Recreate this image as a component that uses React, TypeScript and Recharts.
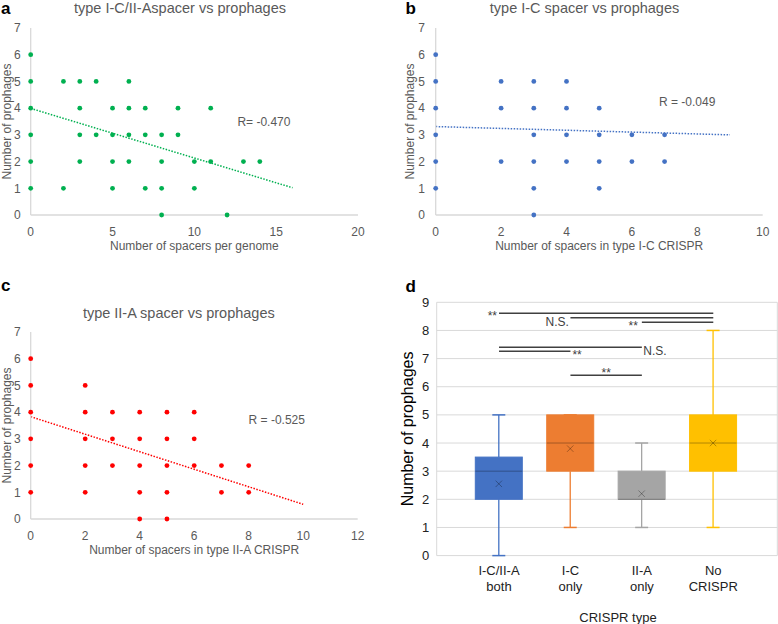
import React from 'react';
import {
  ScatterChart,
  Scatter,
  XAxis,
  YAxis,
  ReferenceLine,
  ReferenceDot,
  ComposedChart,
  Bar,
  CartesianGrid,
} from 'recharts';

const FONT = '"Liberation Sans", Arial, Helvetica, sans-serif';
const GREY_TEXT = '#595959';
const AXIS_GREY = '#d9d9d9';
const DARK = '#222222';

// ---------- Panel a: type I-C/II-A spacers (per genome) vs prophages
const aSpacers = [0, 0, 0, 0, 0, 0, 2, 2, 3, 3, 3, 3, 4, 4, 5, 5, 5, 5, 6, 6, 6, 6, 7, 7, 7, 8, 8, 8, 8, 9, 9, 10, 10, 11, 11, 12, 13, 14];
const aProphages = [1, 2, 3, 4, 5, 6, 1, 5, 2, 3, 4, 5, 3, 5, 1, 2, 3, 4, 2, 3, 4, 5, 1, 3, 4, 0, 1, 2, 3, 3, 4, 1, 2, 2, 4, 0, 2, 2];
const aTrendX = [0, 16];
const aTrendY = [3.99, 1.02];
const aXTicks = [0, 5, 10, 15, 20];
const aR = 'R= -0.470';
const aRAt = [14.25, 3.48];

// ---------- Panel b: type I-C spacers vs prophages
const bSpacers = [0, 0, 0, 0, 0, 0, 2, 2, 2, 3, 3, 3, 3, 3, 3, 4, 4, 4, 4, 5, 5, 5, 5, 6, 6, 7, 7];
const bProphages = [1, 2, 3, 4, 5, 6, 2, 4, 5, 0, 1, 2, 3, 4, 5, 2, 3, 4, 5, 1, 2, 3, 4, 2, 3, 2, 3];
const bTrendX = [0, 9];
const bTrendY = [3.31, 3.0];
const bXTicks = [0, 2, 4, 6, 8, 10];
const bR = 'R = -0.049';
const bRAt = [7.69, 4.24];

// ---------- Panel c: type II-A spacers vs prophages
const cSpacers = [0, 0, 0, 0, 0, 0, 2, 2, 2, 2, 2, 3, 3, 3, 4, 4, 4, 4, 4, 5, 5, 5, 5, 5, 6, 6, 6, 7, 7, 8, 8];
const cProphages = [1, 2, 3, 4, 5, 6, 1, 2, 3, 4, 5, 2, 3, 4, 0, 1, 2, 3, 4, 0, 1, 2, 3, 4, 2, 3, 4, 1, 2, 1, 2];
const cTrendX = [0, 10];
const cTrendY = [3.83, 0.55];
const cXTicks = [0, 2, 4, 6, 8, 10, 12];
const cR = 'R = -0.525';
const cRAt = [9.03, 3.71];

const yTicks7 = [0, 1, 2, 3, 4, 5, 6, 7];

// ---------- Panel d: box plot of prophages by CRISPR type
const categories = ['I-C/II-A both', 'I-C only', 'II-A only', 'No CRISPR'];
const boxMin = [0, 1, 1, 1];
const boxQ1 = [2, 3, 2, 3];
const boxMedian = [3, 4, 2, 4];
const boxQ3 = [3.5, 5, 3, 5];
const boxMax = [5, 5, 4, 8];
const boxMean = [2.55, 3.8, 2.2, 4.0];
const boxColors = ['#4472C4', '#ED7D31', '#A5A5A5', '#FFC000'];
const yTicks9 = [0, 1, 2, 3, 4, 5, 6, 7, 8, 9];

// significance bars
const sigFrom = [0, 1, 2, 0, 0, 1];
const sigTo = [3, 3, 3, 2, 1, 2];
const sigLevel = [8.61, 8.45, 8.29, 7.4, 7.26, 6.41];
const sigText = ['**', 'N.S.', '**', 'N.S.', '**', '**'];
// label placement (styling)
const sigPlace = ['left', 'left', 'left', 'right', 'right', 'top'];
const sigDy = [2.6, 3.7, 3.6, 3.3, 3.4, 0];
const sigOffset = [2, 1.5, 4, 1.5, 2, -2.3];

const pts = (xs: number[], ys: number[]) => xs.map((x, i) => ({ x, y: ys[i] }));

const makeDot = (color: string) => (p: any) => (
  <circle cx={p.cx} cy={p.cy} r={2.4} fill={color} />
);

type ScatterPanelProps = {
  width: number;
  height: number;
  margin: { top: number; right: number; bottom: number; left: number };
  yAxisWidth: number;
  yLabelOffset: number;
  yTickMargin: number;
  data: { x: number; y: number }[];
  color: string;
  xDomain: [number, number];
  xTicks: number[];
  xLabel: string;
  trendX: number[];
  trendY: number[];
  rText: string;
  rAt: number[];
};

function ScatterPanel(p: ScatterPanelProps) {
  const tickStyle = { fill: GREY_TEXT, fontSize: 12, fontFamily: FONT };
  return (
    <ScatterChart width={p.width} height={p.height} margin={p.margin}>
      <XAxis
        type="number"
        dataKey="x"
        domain={p.xDomain}
        ticks={p.xTicks}
        interval={0}
        tickLine={false}
        axisLine={{ stroke: AXIS_GREY, strokeWidth: 1.3 }}
        tick={tickStyle}
        tickMargin={6}
        height={45}
        label={{ value: p.xLabel, position: 'insideBottom', offset: 10, fill: GREY_TEXT, fontSize: 12 }}
      />
      <YAxis
        type="number"
        dataKey="y"
        domain={[0, 7]}
        ticks={yTicks7}
        interval={0}
        tickLine={false}
        axisLine={{ stroke: AXIS_GREY, strokeWidth: 1.3 }}
        tick={tickStyle}
        tickMargin={p.yTickMargin}
        width={p.yAxisWidth}
        label={{
          value: 'Number of prophages',
          angle: -90,
          position: 'insideLeft',
          offset: p.yLabelOffset,
          fill: GREY_TEXT,
          fontSize: 12,
          style: { textAnchor: 'middle' },
        }}
      />
      <ReferenceLine
        segment={[
          { x: p.trendX[0], y: p.trendY[0] },
          { x: p.trendX[1], y: p.trendY[1] },
        ]}
        stroke={p.color}
        strokeWidth={1.5}
        strokeDasharray="1.5 1.5"
      />
      <Scatter data={p.data} fill={p.color} shape={makeDot(p.color)} isAnimationActive={false} />
      <ReferenceDot
        x={p.rAt[0]}
        y={p.rAt[1]}
        r={0}
        fill="none"
        stroke="none"
        label={{ value: p.rText, position: 'center', fill: GREY_TEXT, fontSize: 12 }}
      />
    </ScatterChart>
  );
}

const boxData = categories.map((name, i) => ({
  name,
  min: boxMin[i],
  q1: boxQ1[i],
  median: boxMedian[i],
  q3: boxQ3[i],
  max: boxMax[i],
  mean: boxMean[i],
  color: boxColors[i],
}));

const BoxShape = (props: any) => {
  const { x, y, width, height, payload } = props;
  if (!payload) return null;
  const top = Math.min(y, y + height);
  const h = Math.abs(height);
  const { min, max, q1, median, q3, mean, color } = payload;
  const py = (v: number) => top + ((max - v) / (max - min)) * h;
  const cx = x + width / 2;
  const cap = 13;
  const m = 3.2;
  const my = py(mean);
  return (
    <g>
      <line x1={cx} x2={cx} y1={py(max)} y2={py(q3)} stroke={color} strokeWidth={1.3} />
      <line x1={cx} x2={cx} y1={py(q1)} y2={py(min)} stroke={color} strokeWidth={1.3} />
      <line x1={cx - cap / 2} x2={cx + cap / 2} y1={py(max)} y2={py(max)} stroke={color} strokeWidth={1.5} />
      <line x1={cx - cap / 2} x2={cx + cap / 2} y1={py(min)} y2={py(min)} stroke={color} strokeWidth={1.5} />
      <rect x={x} y={py(q3)} width={width} height={py(q1) - py(q3)} fill={color} stroke={color} strokeWidth={1} />
      <line x1={x} x2={x + width} y1={py(median)} y2={py(median)} stroke="rgba(0,0,0,0.3)" strokeWidth={1} />
      <line x1={cx - m} x2={cx + m} y1={my - m} y2={my + m} stroke="rgba(0,0,0,0.3)" strokeWidth={1} />
      <line x1={cx - m} x2={cx + m} y1={my + m} y2={my - m} stroke="rgba(0,0,0,0.3)" strokeWidth={1} />
    </g>
  );
};

const CatTick = (props: any) => {
  const { x, y, payload } = props;
  const s = String(payload.value);
  const i = s.indexOf(' ');
  return (
    <text x={x} y={y} textAnchor="middle" fill={DARK} fontSize={13} fontFamily={FONT}>
      <tspan x={x} dy={11}>{s.slice(0, i)}</tspan>
      <tspan x={x} dy={16}>{s.slice(i + 1)}</tspan>
    </text>
  );
};

function BoxPanel() {
  return (
    <ComposedChart
      width={388}
      height={334}
      data={boxData}
      margin={{ top: 12.3, right: 0.7, bottom: 0, left: 0 }}
    >
      <CartesianGrid
        stroke={AXIS_GREY}
        strokeWidth={1}
        verticalCoordinatesGenerator={(args: any) => {
          const o = args && args.offset;
          return o ? [o.left, o.left + o.width] : [];
        }}
      />
      <XAxis
        dataKey="name"
        type="category"
        padding={{ left: 26.6, right: 28.3 }}
        tickLine={false}
        axisLine={false}
        tick={<CatTick />}
        interval={0}
        height={68.4}
        label={{ value: 'CRISPR type', position: 'insideBottom', offset: 2.4, fill: DARK, fontSize: 13, dx: 11 }}
      />
      <YAxis
        type="number"
        domain={[0, 9]}
        ticks={yTicks9}
        interval={0}
        tickLine={false}
        axisLine={false}
        tick={{ fill: DARK, fontSize: 13, fontFamily: FONT }}
        tickMargin={1.4}
        width={46.7}
        label={{
          value: 'Number of prophages',
          angle: -90,
          position: 'insideLeft',
          offset: 17,
          fill: '#000',
          fontSize: 16,
          style: { textAnchor: 'middle' },
        }}
      />
      <Bar
        dataKey={(d: any) => [d.min, d.max]}
        barSize={47}
        shape={<BoxShape />}
        isAnimationActive={false}
      />
      {sigLevel.map((lv, i) => (
        <ReferenceLine
          key={i}
          segment={[
            { x: categories[sigFrom[i]], y: lv },
            { x: categories[sigTo[i]], y: lv },
          ]}
          stroke="#404040"
          strokeWidth={1.5}
          label={{
            value: sigText[i],
            position: sigPlace[i] as any,
            offset: sigOffset[i],
            fill: '#404040',
            fontSize: 12,
            dy: sigDy[i],
          }}
        />
      ))}
    </ComposedChart>
  );
}

const Letter = ({ ch, left, top }: { ch: string; left: number; top: number }) => (
  <div style={{ position: 'absolute', left, top, fontSize: 17, fontWeight: 'bold', lineHeight: 1, color: '#000' }}>{ch}</div>
);

const Title = ({ text, cx, top }: { text: string; cx: number; top: number }) => (
  <div
    style={{
      position: 'absolute',
      left: cx - 160,
      width: 320,
      top,
      textAlign: 'center',
      fontSize: 14.5,
      lineHeight: 1,
      color: GREY_TEXT,
      whiteSpace: 'nowrap',
    }}
  >
    {text}
  </div>
);

export default function App() {
  return (
    <div
      style={{
        position: 'absolute',
        left: 0,
        top: 0,
        width: 778,
        height: 624,
        background: '#fff',
        fontFamily: FONT,
        overflow: 'hidden',
      }}
    >
      <div style={{ position: 'absolute', left: 0, top: 0 }}>
        <ScatterPanel
          width={390}
          height={260}
          margin={{ top: 28, right: 32, bottom: 0, left: 0 }}
          yAxisWidth={30.7}
          yLabelOffset={6.5}
          yTickMargin={4}
          data={pts(aSpacers, aProphages)}
          color="#00B050"
          xDomain={[0, 20]}
          xTicks={aXTicks}
          xLabel="Number of spacers per genome"
          trendX={aTrendX}
          trendY={aTrendY}
          rText={aR}
          rAt={aRAt}
        />
      </div>
      <div style={{ position: 'absolute', left: 390, top: 0 }}>
        <ScatterPanel
          width={388}
          height={260}
          margin={{ top: 28, right: 15.3, bottom: 0, left: 0 }}
          yAxisWidth={45.7}
          yLabelOffset={20}
          yTickMargin={4.7}
          data={pts(bSpacers, bProphages)}
          color="#4472C4"
          xDomain={[0, 10]}
          xTicks={bXTicks}
          xLabel="Number of spacers in type I-C CRISPR"
          trendX={bTrendX}
          trendY={bTrendY}
          rText={bR}
          rAt={bRAt}
        />
      </div>
      <div style={{ position: 'absolute', left: 0, top: 304 }}>
        <ScatterPanel
          width={390}
          height={260}
          margin={{ top: 28, right: 32.3, bottom: 0, left: 0 }}
          yAxisWidth={30.7}
          yLabelOffset={6.5}
          yTickMargin={4}
          data={pts(cSpacers, cProphages)}
          color="#FF0000"
          xDomain={[0, 12]}
          xTicks={cXTicks}
          xLabel="Number of spacers in type II-A CRISPR"
          trendX={cTrendX}
          trendY={cTrendY}
          rText={cR}
          rAt={cRAt}
        />
      </div>
      <div style={{ position: 'absolute', left: 390, top: 290 }}>
        <BoxPanel />
      </div>
      <Title text="type I-C/II-Aspacer vs prophages" cx={180} top={1} />
      <Title text="type I-C spacer vs prophages" cx={584.5} top={1} />
      <Title text="type II-A spacer vs prophages" cx={178.8} top={306} />
      <Letter ch="a" left={1} top={0} />
      <Letter ch="b" left={405.5} top={0} />
      <Letter ch="c" left={1} top={277.3} />
      <Letter ch="d" left={405.5} top={277.9} />
    </div>
  );
}
